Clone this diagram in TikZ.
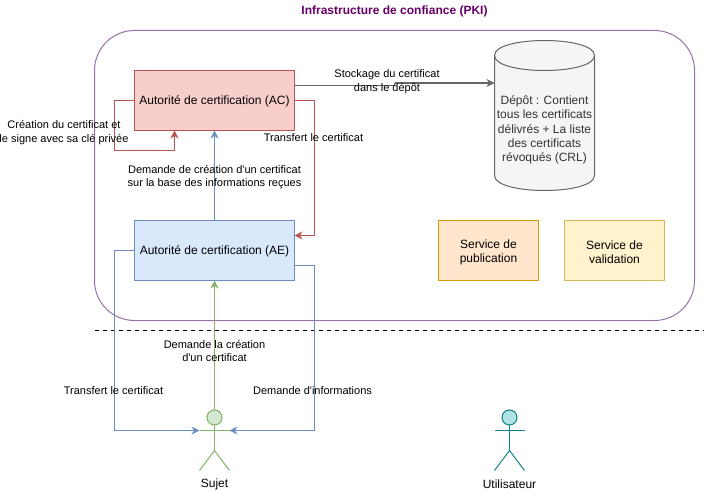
\documentclass[tikz,border=0pt]{standalone}
\usepackage{fontspec}
\setmainfont{Liberation Sans}
\usetikzlibrary{arrows.meta}
\definecolor{acfill}{HTML}{F8CECC}
\definecolor{acline}{HTML}{B85450}
\definecolor{aefill}{HTML}{DAE8FC}
\definecolor{aeline}{HTML}{6C8EBF}
\definecolor{sujetfill}{HTML}{D5E8D4}
\definecolor{sujetline}{HTML}{82B366}
\definecolor{pubfill}{HTML}{FFE6CC}
\definecolor{publine}{HTML}{D79B00}
\definecolor{valfill}{HTML}{FFF2CC}
\definecolor{valline}{HTML}{D6B656}
\definecolor{userfill}{HTML}{B0E3E6}
\definecolor{userline}{HTML}{0E8088}
\definecolor{pkiline}{HTML}{9673A6}
\definecolor{pkititle}{HTML}{660066}
\definecolor{depotfill}{HTML}{F5F5F5}
\definecolor{depotline}{HTML}{666666}
\definecolor{depottext}{HTML}{333333}
\newcommand{\hautservice}{\rule{0pt}{9.5pt}}
\tikzset{
	boxtext/.style={font=\fontsize{9}{10.7}\selectfont,align=center},
	linktext/.style={font=\fontsize{8.25}{10}\selectfont,align=center,inner sep=0pt},
	autorite/.style={boxtext,draw,outer sep=0pt,minimum width=120pt,minimum height=45pt,execute at begin node=\rule{0pt}{8.25pt}},
	service/.style={boxtext,draw,outer sep=0pt,minimum width=75pt,minimum height=45pt},
	tete/.style={circle,draw,outer sep=0pt,minimum size=11.25pt,inner sep=0pt},
	lien/.style={-{Stealth[length=6pt,width=6pt]},line width=0.75pt},
	trait/.style={line width=0.75pt}
}
\begin{document}
\begin{tikzpicture}[x=0.75pt,y=-0.75pt,line width=0.75pt]
	\useasboundingbox (0,0) rectangle (706,492);
	\node (PKI) [draw=pkiline,rounded corners=30pt,outer sep=0pt,minimum width=450pt,minimum height=217.5pt] at (394.5,175.5) {};
	\node (T1) at (394.5,11) [font=\fontsize{9}{10.5}\selectfont\bfseries,text=pkititle,inner sep=0pt] {Infrastructure de confiance (PKI)};
	\node (AC) [autorite,draw=acline,fill=acfill] at (214.5,100.5) {Autorité de certification (AC)};
	\node (AE) [autorite,draw=aeline,fill=aefill] at (214.5,250.5) {Autorité de certification (AE)};
	\node (PUB) [service,draw=publine,fill=pubfill] at (488.5,250.5) {\hautservice Service de\\publication};
	\node (VAL) [service,draw=valline,fill=valfill] at (614.5,250.5) {\hautservice Service de\\validation};
	% depot
	\draw[trait,draw=depotline,fill=depotfill] (494.5,55.5) .. controls (494.5,35.5) and (594.5,35.5) .. (594.5,55.5) -- (594.5,175.5) .. controls (594.5,195.5) and (494.5,195.5) .. (494.5,175.5) -- cycle;
	\draw[trait,depotline] (494.5,55.5) .. controls (494.5,75.5) and (594.5,75.5) .. (594.5,55.5);
	\node (DEP) [boxtext,text=depottext,inner sep=0pt] at (544.5,130) {Dépôt : Contient\\tous les certificats\\délivrés + La liste\\des certificats\\révoqués (CRL)};
	% sujet
	\coordinate (S2) at (199.5,430.5);
	\coordinate (S3) at (229.5,430.5);
	\coordinate (S4) at (214.5,450.5);
	\coordinate (S5) at (199.5,470.5);
	\coordinate (S6) at (229.5,470.5);
	\node (SH) [tete,draw=sujetline,fill=sujetfill] at (214.5,417.5) {};
	\draw[trait,sujetline] (SH.south)--(S4);
	\draw[trait,sujetline] (S2)--(S3);
	\draw[trait,sujetline] (S5)--(S4)--(S6);
	\node (SL) [boxtext,inner sep=0pt] at (214.5,484) {Sujet};
	% utilisateur
	\coordinate (U2) at (494.5,430.5);
	\coordinate (U3) at (524.5,430.5);
	\coordinate (U4) at (509.5,450.5);
	\coordinate (U5) at (494.5,470.5);
	\coordinate (U6) at (524.5,470.5);
	\node (UH) [tete,draw=userline,fill=userfill] at (509.5,417.5) {};
	\draw[trait,userline] (UH.south)--(U4);
	\draw[trait,userline] (U2)--(U3);
	\draw[trait,userline] (U5)--(U4)--(U6);
	\node (UL) [boxtext,inner sep=0pt] at (509.5,484) {Utilisateur};
	% separation
	\coordinate (L1) at (94.5,330.5);
	\coordinate (L2) at (704,330.5);
	\draw[trait,dashed] (L1)--(L2);
	% liens
	\coordinate (A1) at (114.5,100.5);
	\coordinate (A2) at (114.5,150.5);
	\coordinate (A3) at (174.5,150.5);
	\coordinate (B1) at (314.5,100.5);
	\coordinate (B2) at (314.5,235.5);
	\coordinate (C1) at (114.5,250.5);
	\coordinate (C2) at (114.5,430.5);
	\coordinate (E1) at (314.5,265.5);
	\coordinate (E2) at (314.5,430.5);
	\coordinate (F1) at (394.5,85.5);
	\coordinate (F2) at (394.5,83);
	\coordinate (F3) at (494.5,83);
	\draw[lien,acline] (AC.west)--(A1)--(A2)--(A3)--(AC.south -| A3);
	\draw[lien,acline] (AC.east)--(B1)--(B2)--(AE.east |- B2);
	\draw[lien,aeline] (AE.north)--(AC.south);
	\draw[lien,sujetline] (SH.north)--(AE.south);
	\draw[lien,aeline] (AE.west)--(C1)--(C2)--(S2);
	\draw[lien,aeline] (AE.east |- E1)--(E1)--(E2)--(S3);
	\draw[trait,depotline] (AC.east |- F1)--(F1)--(F2);
	\draw[lien,depotline] (F2)--(F3);
	% textes
	\node (P1) [linktext] at (387,81.5) {Stockage du certificat\\dans le dépôt};
	\node (P2) [linktext] at (64,132.5) {Création du certificat et\\le signe avec sa clé privée};
	\node (P3) [linktext] at (313.5,138) {Transfert le certificat};
	\node (P4) [linktext] at (214.5,177) {Demande de création d\textquotesingle un certificat\\sur la base des informations reçues};
	\node (P5) [linktext] at (214.5,351) {Demande la création\\d\textquotesingle un certificat};
	\node (P6) [linktext] at (113.5,391) {Transfert le certificat};
	\node (P7) [linktext] at (312.5,391) {Demande d\textquotesingle informations};
\end{tikzpicture}
\end{document}
